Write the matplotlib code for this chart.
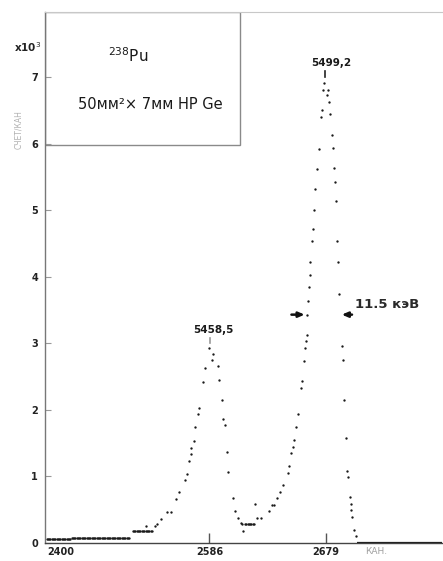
import numpy as np
import matplotlib
matplotlib.use("Agg")
import matplotlib.pyplot as plt
from matplotlib.patches import Rectangle

# ---------------- data ----------------
# flat background at the start of the spectrum (channels 2456..2522)
baseline_channels = np.arange(2456, 2523)
baseline_counts = [55, 55, 55, 55, 55, 55, 55, 55, 55, 55, 55, 55, 55, 55, 55, 55, 55, 55, 55, 55,
                   66, 66, 66, 66, 66, 66, 66, 66, 66, 66, 66, 66, 66, 66, 66, 66, 66, 66, 66, 66,
                   66, 66, 66, 66, 66, 66, 66, 66, 66, 66, 66, 66, 66, 66, 66, 66, 66, 66, 66, 66,
                   66, 66, 66, 66, 66, 66, 66]

# peak region (channel, counts)
channels = [2525, 2526, 2527, 2528, 2529, 2530, 2531, 2532, 2533, 2534, 2535, 2536, 2537, 2538, 2539, 2540,
            2535.4, 2542.4, 2544.0, 2547.2, 2552.0, 2555.4, 2559.2, 2562.0, 2566.3, 2568.2, 2570.0,
            2571.4, 2571.6, 2573.5, 2574.6, 2576.7, 2577.8, 2581.0, 2582.6, 2585.8, 2588.4, 2589.2,
            2592.7, 2593.8, 2596.4, 2597.0, 2598.5, 2599.9, 2601.2, 2604.9, 2606.5, 2608.7, 2611.1,
            2611.9, 2613.2, 2614.5, 2615.5, 2616.5, 2617.5, 2618.5, 2619.5, 2620.5, 2621.5, 2622.3,
            2623.9, 2627.3, 2634.0, 2636.3, 2637.7, 2639.9, 2642.1, 2644.5, 2648.6, 2649.4, 2651.5,
            2653.1, 2653.9, 2655.3, 2656.6, 2659.0, 2659.8, 2661.7, 2662.5, 2663.3, 2663.8, 2664.3,
            2665.1, 2665.7, 2666.2, 2666.7, 2667.8, 2668.6, 2669.4, 2670.7, 2671.8, 2673.6, 2675.0,
            2675.8, 2677.1, 2677.9, 2679.8, 2680.6, 2681.9, 2682.7, 2684.1, 2684.6, 2685.4, 2686.4,
            2687.2, 2688.3, 2688.6, 2689.4, 2691.8, 2692.6, 2693.7, 2695.2, 2696.3, 2697.1, 2698.4,
            2699.0, 2699.5, 2700.0, 2701.9, 2703.2]
counts = [168, 168, 168, 168, 168, 168, 168, 168, 168, 168, 168, 168, 168, 168, 168, 168,
          256, 256, 277, 352, 457, 466, 657, 758, 943, 1033, 1229,
          1334, 1429, 1534, 1740, 1931, 2026, 2421, 2623, 2924, 2748, 2834,
          2658, 2447, 2146, 1865, 1766, 1364, 1064, 677, 477, 376, 292,
          281, 180, 277, 277, 277, 277, 277, 277, 277, 277, 582,
          364, 364, 474, 562, 572, 668, 763, 868, 1053, 1154, 1345,
          1444, 1545, 1745, 1936, 2331, 2432, 2728, 2928, 3029, 3128, 3429,
          3635, 3841, 4026, 4226, 4538, 4723, 5004, 5320, 5616, 5917, 6407,
          6512, 6809, 6909, 6733, 6809, 6633, 6443, 6132, 5932, 5631, 5429,
          5139, 4538, 4226, 3741, 2954, 2748, 2151, 1575, 1078, 984, 683,
          587, 492, 387, 191, 96]

# empty channels after the peak
tail_channels = np.arange(2704, 2773)
tail_counts = np.zeros(len(tail_channels))

peak_channels = [2586.6, 2678.4]
peak_marks_low = [3000, 7000]
peak_marks_high = [3080, 7090]
peak_labels = ["5458,5", "5499,2"]
label_channels = [2589.2, 2683.2]
label_counts = [3200, 7215]

fwhm_level = 3429
fwhm_left = [2651.6, 2662.2]
fwhm_right = [2700.0, 2691.8]
fwhm_text = "11.5 кэВ"

x_ticks = [2467.5, 2586, 2679]
x_ticklabels = ["2400", "2586", "2679"]
y_ticks = [0, 1000, 2000, 3000, 4000, 5000, 6000, 7000]
y_ticklabels = ["0", "1", "2", "3", "4", "5", "6", "7"]

# ---------------- figure ----------------
W, H = 443, 561
fig = plt.figure(figsize=(W / 100, H / 100), dpi=100)
fig.patch.set_facecolor("white")
ax = fig.add_axes([45 / W, 18 / H, 398 / W, 531 / H])
ax.set_xlim(2454.7, 2772.7)
ax.set_ylim(-5, 7980)

dot = dict(linestyle="none", marker="o", ms=1.7, mec="none", mfc="#1a1a1a")
ax.plot(baseline_channels, baseline_counts, **dot)
ax.plot(channels, counts, **dot)
ax.plot(tail_channels, tail_counts, color="#1a1a1a", lw=1.6, solid_capstyle="butt")

# peak markers and labels
for c, lo, hi, lab, lc, lcnt, col in zip(peak_channels, peak_marks_low, peak_marks_high,
                                          peak_labels, label_channels, label_counts,
                                          ["#999999", "#222222"]):
    ax.plot([c, c], [lo, hi], color=col, lw=1.2)
    ax.text(lc, lcnt, lab, ha="center", va="center", fontsize=7.5, color="#1a1a1a",
            fontweight="bold")

# FWHM arrows
arrow = dict(arrowstyle="-|>,head_length=0.35,head_width=0.15", color="#111111", lw=1.8,
             shrinkA=0, shrinkB=0)
ax.annotate("", xy=(fwhm_left[1], fwhm_level), xytext=(fwhm_left[0], fwhm_level), arrowprops=arrow)
ax.annotate("", xy=(fwhm_right[1], fwhm_level), xytext=(fwhm_right[0], fwhm_level), arrowprops=arrow)
ax.text(2702.5, 3580, fwhm_text, ha="left", va="center", fontsize=9.5, color="#2a2a2a",
        fontweight="bold")

# info box
ax.add_patch(Rectangle((0, 0.7486), 0.49, 0.2514, transform=ax.transAxes, fill=False,
                       edgecolor="#8a8a8a", lw=1.0))
ax.text(0.21, 0.917, r"$^{238}$Pu", transform=ax.transAxes, ha="center", va="center",
        fontsize=11, color="#1a1a1a")
ax.text(0.265, 0.826, "50мм²× 7мм HP Ge", transform=ax.transAxes, ha="center", va="center",
        fontsize=10.5, color="#1a1a1a")

# axes styling
ax.spines["right"].set_visible(False)
ax.spines["top"].set_color("#c8c8c8")
ax.spines["top"].set_linewidth(0.8)
ax.spines["left"].set_color("#777777")
ax.spines["left"].set_linewidth(1.0)
ax.spines["bottom"].set_color("#444444")
ax.spines["bottom"].set_linewidth(1.0)

ax.set_xticks(x_ticks)
ax.set_xticklabels(x_ticklabels, fontsize=7, fontweight="bold", color="#222222")
ax.set_yticks(y_ticks)
ax.set_yticklabels(y_ticklabels, fontsize=7, fontweight="bold", color="#222222")
ax.tick_params(axis="x", direction="in", length=7, width=1.0, color="#555555", pad=3)
ax.tick_params(axis="y", direction="in", length=4, width=0.8, color="#999999", pad=5)
ax.xaxis.get_major_ticks()[0].tick1line.set_visible(False)

fig.text(14 / W, 1 - 47 / H, "x10$^3$", fontsize=7.5, fontweight="bold", color="#222222",
         ha="left", va="center")
fig.text(19 / W, 1 - 130 / H, "СЧЕТ/КАН", rotation=90, fontsize=5.5, color="#b0b0b0",
         ha="center", va="center")
fig.text(376 / W, 1 - 552 / H, "КАН.", fontsize=6.5, color="#a0a0a0", ha="center", va="center")

fig.savefig("out.png", dpi=100, facecolor="white")
